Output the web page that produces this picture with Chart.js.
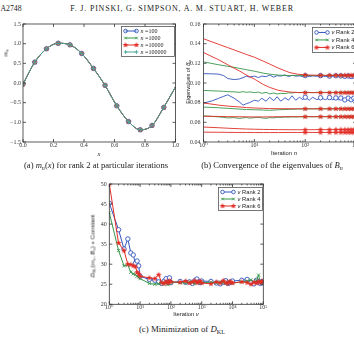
<!DOCTYPE html>
<html>
<head>
<meta charset="utf-8">
<script src="https://cdn.jsdelivr.net/npm/chart.js@4.4.1/dist/chart.umd.min.js"></script>
<style>
  html, body { margin: 0; padding: 0; background: #fff; }
  #page { position: relative; width: 354px; height: 338px; overflow: hidden; font-family: "Liberation Serif", "DejaVu Serif", serif; color: #222; }
  canvas { position: absolute; }
  .txt { position: absolute; white-space: nowrap; transform: translate(-50%, -50%); }
  .rot { transform: translate(-50%, -50%) rotate(-90deg); }
  .sans { font-family: "Liberation Sans", "DejaVu Sans", sans-serif; }
  sub { font-size: 70%; vertical-align: -0.3em; line-height: 0; }
</style>
</head>
<body>
<div id="page">
  <div class="txt" style="left:11px;top:8px;font-size:7.8px">A2748</div>
  <div class="txt" style="left:182px;top:8px;font-size:8px;letter-spacing:0.8px">F. J. PINSKI, G. SIMPSON, A. M. STUART, H. WEBER</div>

  <canvas id="chartA" width="180" height="138" style="left:0;top:14px"></canvas>
  <canvas id="chartB" width="180" height="138" style="left:180px;top:14px"></canvas>
  <canvas id="chartC" width="190" height="140" style="left:80px;top:174px"></canvas>

  <div class="txt rot" style="left:5px;top:53px;font-size:6.5px"><i>m</i><sub><i>n</i></sub></div>
  <div class="txt" style="left:99px;top:153px;font-size:6.5px"><i>x</i></div>
  <div class="txt" style="left:96px;top:165px;font-size:8.6px">(a) <i>m</i><sub><i>n</i></sub>(<i>x</i>) for rank 2 at particular iterations</div>

  <div class="txt rot sans" style="left:188px;top:82px;font-size:5.5px">Eigenvalues of <i>B</i><sub><i>n</i></sub></div>
  <div class="txt sans" style="left:284px;top:153px;font-size:5.8px">Iteration <i>n</i></div>
  <div class="txt" style="left:272px;top:165px;font-size:8.6px">(b) Convergence of the eigenvalues of <i>B</i><sub><i>n</i></sub></div>

  <div class="txt rot sans" style="left:92px;top:246px;font-size:6.2px"><i>D</i><sub>KL</sub>(<i>m</i><sub><i>ν</i></sub>, <i>B</i><sub><i>ν</i></sub>) + Constant</div>
  <div class="txt sans" style="left:186px;top:314px;font-size:5.8px">Iteration <i>ν</i></div>
  <div class="txt" style="left:182px;top:329px;font-size:8.8px">(c) Minimization of <i>D</i><sub>KL</sub></div>
</div>

<script>
// ---- (a) m_n(x) for rank 2 ----
const xA = [0, 0.077, 0.154, 0.231, 0.308, 0.385, 0.462, 0.538, 0.615, 0.692, 0.769, 0.846, 0.923, 1.0];
const mA = [-0.03, 0.53, 0.87, 1.01, 0.97, 0.75, 0.37, -0.06, -0.58, -0.98, -1.19, -1.08, -0.62, -0.10];
const itersA = ['100', '1000', '10000', '100000'];

// ---- (b) eigenvalues of B_n ----
const iterB = [1, 2, 3, 5, 7, 10, 15, 20, 30, 50, 70, 100, 200, 300, 400, 500, 600, 700, 800, 900, 1000];
const iterBFine = [1, 1.5, 2, 2.5, 3, 4, 5, 6, 7, 8, 10, 12, 14, 17, 20, 24, 28, 33, 40, 47,
  55, 65, 77, 90, 100, 120, 140, 170, 200, 250, 300, 350, 400, 450, 500, 600, 700, 800, 900, 1000];

const rank6Eig1 = [0.145, 0.1393, 0.136, 0.1318, 0.129, 0.1262, 0.1222, 0.1193, 0.115, 0.1105, 0.109, 0.1082, 0.1078, 0.1078, 0.1078, 0.1078, 0.1078, 0.1078, 0.1078, 0.1078, 0.1078];
const rank6Eig2 = [0.131, 0.1235, 0.1185, 0.1125, 0.108, 0.104, 0.0985, 0.0955, 0.0925, 0.0908, 0.0903, 0.0902, 0.0902, 0.0902, 0.0902, 0.0902, 0.0902, 0.0902, 0.0902, 0.0902, 0.0902];
const rank6Eig3 = [0.0797, 0.0775, 0.0765, 0.0757, 0.075, 0.0746, 0.0742, 0.074, 0.0739, 0.0738, 0.0738, 0.0738, 0.0738, 0.0738, 0.0738, 0.0738, 0.0738, 0.0738, 0.0738, 0.0738, 0.0738];
const rank6Eig4 = [0.0662, 0.066, 0.0658, 0.0657, 0.0656, 0.0655, 0.0655, 0.0656, 0.0657, 0.0658, 0.0658, 0.0658, 0.0658, 0.0658, 0.0658, 0.0658, 0.0658, 0.0658, 0.0658, 0.0658, 0.0658];
const rank6Eig5 = [0.0552, 0.0545, 0.054, 0.0535, 0.0532, 0.053, 0.0528, 0.0527, 0.0526, 0.0525, 0.0525, 0.0525, 0.0526, 0.0526, 0.0526, 0.0526, 0.0526, 0.0526, 0.0526, 0.0526, 0.0526];
const rank6Eig6 = [0.05, 0.0499, 0.0498, 0.0497, 0.0497, 0.0496, 0.0496, 0.0496, 0.0496, 0.0497, 0.0497, 0.0497, 0.0497, 0.0497, 0.0497, 0.0497, 0.0497, 0.0497, 0.0497, 0.0497, 0.0497];

const rank4Eig1 = [0.1215, 0.1185, 0.117, 0.115, 0.1135, 0.112, 0.110, 0.109, 0.108, 0.1075, 0.1078, 0.1076, 0.1077, 0.1076, 0.1077, 0.1076, 0.1077, 0.1076, 0.1077, 0.1076, 0.1077];
const rank4Eig2 = [0.0925, 0.092, 0.0918, 0.0915, 0.0912, 0.091, 0.0905, 0.0912, 0.0905, 0.091,
  0.0902, 0.0908, 0.0895, 0.0905, 0.089, 0.0898, 0.0888, 0.0895, 0.0892, 0.090,
  0.0898, 0.0905, 0.0902, 0.0905, 0.0903, 0.0905, 0.0902, 0.0905, 0.0903, 0.0905,
  0.0902, 0.0904, 0.0903, 0.0905, 0.0902, 0.0904, 0.0903, 0.0904, 0.0902, 0.0903];
const rank4Eig3 = [0.0755, 0.0748, 0.0742, 0.0735, 0.073, 0.0728, 0.0725, 0.0722, 0.0728, 0.0732, 0.0735, 0.0736, 0.0737, 0.0737, 0.0737, 0.0737, 0.0737, 0.0737, 0.0737, 0.0737, 0.0737];
const rank4Eig4 = [0.0665, 0.066, 0.0655, 0.065, 0.0645, 0.0648, 0.064, 0.0645, 0.065, 0.0642,
  0.0648, 0.0652, 0.0645, 0.064, 0.0648, 0.0645, 0.0652, 0.065, 0.0655, 0.0652,
  0.0656, 0.0654, 0.0656, 0.0655, 0.0656, 0.0657, 0.0656, 0.0657, 0.0656, 0.0657,
  0.0656, 0.0657, 0.0656, 0.0657, 0.0656, 0.0657, 0.0656, 0.0657, 0.0656, 0.0657];

const rank2Eig1 = [0.1095, 0.1093, 0.109, 0.1075, 0.1045, 0.1035, 0.104, 0.1055, 0.107, 0.106,
  0.107, 0.1055, 0.107, 0.1065, 0.108, 0.106, 0.1075, 0.107, 0.1082, 0.1065,
  0.1078, 0.107, 0.1072, 0.1065, 0.1075, 0.1065, 0.1072, 0.1068, 0.1075, 0.1065,
  0.107, 0.1068, 0.1074, 0.1066, 0.1072, 0.1068, 0.1072, 0.1066, 0.107, 0.1068];
const rank2Eig2 = [0.0795, 0.082, 0.0845, 0.0865, 0.088, 0.0845, 0.081, 0.0775, 0.079, 0.080,
  0.0825, 0.0815, 0.0845, 0.0815, 0.0855, 0.082, 0.086, 0.0815, 0.085, 0.0825,
  0.087, 0.0825, 0.0855, 0.083, 0.0855, 0.0825, 0.0855, 0.083, 0.085, 0.083,
  0.0852, 0.0828, 0.0848, 0.083, 0.0847, 0.0828, 0.0846, 0.083, 0.0845, 0.0835];

// ---- (c) D_KL ----
const iterC = [1, 2, 3, 4, 5, 6, 7, 8, 9, 10,
  20, 30, 40, 50, 60, 70, 80, 90, 100,
  200, 300, 400, 500, 600, 700, 800, 900, 1000,
  2000, 3000, 4000, 5000, 6000, 7000, 8000, 9000, 10000,
  20000, 30000, 40000, 50000, 60000, 70000, 80000, 90000, 100000];
const dklRank2 = [45.2, 38.6, 33.8, 36.3, 32.8, 32.3, 30.2, 30.8, 29.6, 27.0,
  26.2, 26.0, 25.6, 25.2, 25.8, 26.4, 25.5, 26.6, 25.4,
  25.7, 25.5, 25.6, 25.2, 25.9, 26.3, 25.6, 25.4, 25.8,
  25.7, 25.3, 25.1, 25.5, 25.9, 25.2, 25.4, 25.6, 25.8,
  26.0, 26.2, 25.4, 25.1, 26.0, 25.5, 25.2, 25.7, 25.3];
const dklRank4 = [42.8, 33.4, 29.6, 29.8, 28.0, 27.6, 27.4, 27.0, 26.8, 26.4,
  25.2, 25.0, 25.1, 25.3, 25.0, 25.4, 24.9, 25.2, 25.5,
  25.4, 25.3, 25.6, 25.4, 25.2, 25.5, 25.6, 25.3, 25.4,
  25.5, 25.3, 25.6, 25.4, 25.2, 25.5, 25.7, 25.4, 25.3,
  25.6, 25.8, 26.1, 25.5, 25.9, 27.3, 25.6, 25.4, 25.6];
const dklRank6 = [50.0, 35.3, 33.4, 30.0, 29.9, 29.6, 29.4, 28.0, 27.6, 27.0,
  26.6, 26.4, 27.4, 25.4, 25.2, 25.7, 25.3, 25.9, 25.6,
  25.5, 25.8, 25.3, 25.6, 25.9, 25.4, 25.6, 25.8, 25.3,
  25.1, 25.6, 25.3, 25.9, 25.4, 25.2, 25.7, 25.5, 25.3,
  25.6, 25.4, 25.0, 25.5, 25.3, 25.7, 25.4, 25.8, 25.5];

const rankLabels = ['Rank 2', 'Rank 4', 'Rank 6'];
const decadesB = [1, 10, 100, 1000];
const decadesC = [1, 10, 100, 1000, 10000, 100000];

const BLUE = 'rgb(50,85,190)';
const GREEN = 'rgb(55,150,75)';
const RED = 'rgb(226,45,38)';
const TEAL = 'rgb(72,165,150)';
const SERIF = "'Liberation Serif', 'DejaVu Serif', serif";
const SANS = "'Liberation Sans', 'DejaVu Sans', sans-serif";

const pts = (xs, ys) => xs.map((x, i) => ({ x, y: ys[i] }));
const sup = { '0': '⁰', '1': '¹', '2': '²', '3': '³', '4': '⁴', '5': '⁵' };
const powLabel = v => '10' + String(Math.round(Math.log10(v))).split('').map(c => sup[c]).join('');

function starMarker(color, r) {
  const c = document.createElement('canvas');
  const s = Math.ceil(r * 2 + 2);
  c.width = s; c.height = s;
  const g = c.getContext('2d');
  g.fillStyle = color;
  g.beginPath();
  for (let i = 0; i < 10; i++) {
    const rad = i % 2 ? r * 0.45 : r;
    const ang = -Math.PI / 2 + i * Math.PI / 5;
    g.lineTo(s / 2 + rad * Math.cos(ang), s / 2 + rad * Math.sin(ang));
  }
  g.closePath();
  g.fill();
  return c;
}

// log axis ticks: decades are major, 2..9 are minor
function logTicks(decades) {
  const out = [];
  decades.forEach((d, i) => {
    out.push({ value: d });
    if (i < decades.length - 1) for (let k = 2; k <= 9; k++) out.push({ value: d * k, minor: true });
  });
  return out;
}

// box with inward tick marks on all four sides
const framePlugin = {
  id: 'frame',
  afterDatasetsDraw(chart) {
    const { ctx, chartArea: a } = chart;
    const xs = chart.scales.x, ys = chart.scales.y;
    ctx.save();
    ctx.strokeStyle = '#333';
    ctx.lineWidth = 0.8;
    ctx.strokeRect(a.left, a.top, a.right - a.left, a.bottom - a.top);
    ctx.beginPath();
    xs.ticks.forEach(t => {
      const px = xs.getPixelForValue(t.value);
      const len = t.minor ? 1.5 : 3;
      ctx.moveTo(px, a.bottom); ctx.lineTo(px, a.bottom - len);
      ctx.moveTo(px, a.top); ctx.lineTo(px, a.top + len);
    });
    ys.ticks.forEach(t => {
      const py = ys.getPixelForValue(t.value);
      ctx.moveTo(a.left, py); ctx.lineTo(a.left + 3, py);
      ctx.moveTo(a.right, py); ctx.lineTo(a.right - 3, py);
    });
    ctx.stroke();
    ctx.restore();
  }
};

// matplotlib style legend: line with a marker at each end
const legendPlugin = {
  id: 'miniLegend',
  afterDraw(chart, args, o) {
    if (!o || !o.entries) return;
    const { ctx, chartArea } = chart;
    const h = o.rowH * o.entries.length + o.padY * 2;
    const x0 = Math.round(chartArea.right - o.insetR - o.width) + 0.5;
    const y0 = Math.round(chartArea.top + o.insetT) + 0.5;
    ctx.save();
    ctx.fillStyle = '#fff';
    ctx.fillRect(x0, y0, o.width, h);
    ctx.strokeStyle = '#555';
    ctx.lineWidth = 0.8;
    ctx.strokeRect(x0, y0, o.width, h);
    o.entries.forEach((e, i) => {
      const ds = chart.data.datasets[e.dataset];
      const cy = y0 + o.padY + o.rowH * (i + 0.5);
      const lx0 = x0 + 4, lx1 = lx0 + o.lineLen;
      ctx.strokeStyle = ds.borderColor;
      ctx.lineWidth = 1;
      ctx.beginPath(); ctx.moveTo(lx0, cy); ctx.lineTo(lx1, cy); ctx.stroke();
      [lx0, lx1].forEach(px => {
        ctx.fillStyle = ds.pointBackgroundColor;
        ctx.strokeStyle = ds.pointBorderColor;
        ctx.lineWidth = 0.9;
        Chart.helpers.drawPoint(ctx, { pointStyle: ds.pointStyle, radius: o.markR, borderWidth: 0.9, rotation: 0 }, px, cy);
      });
      let tx = lx1 + 4;
      ctx.fillStyle = '#222';
      ctx.textBaseline = 'middle';
      e.parts.forEach(p => {
        ctx.font = (p.italic ? 'italic ' : '') + o.fontSize + 'px ' + o.family;
        ctx.fillText(p.t, tx, cy);
        tx += ctx.measureText(p.t).width;
      });
    });
    ctx.restore();
  }
};

Chart.register(framePlugin, legendPlugin);

const tickFont = { family: SERIF, size: 6 };
const baseOptions = (padding) => ({
  responsive: false,
  animation: false,
  devicePixelRatio: 1,
  events: [],
  layout: { padding, autoPadding: false }
});

// ---------- chart (a) ----------
const styleA = [
  { color: BLUE, pointStyle: 'circle', bg: 'rgba(255,255,255,0)' },
  { color: GREEN, pointStyle: 'crossRot', bg: GREEN },
  { color: RED, pointStyle: starMarker(RED, 3), bg: RED },
  { color: TEAL, pointStyle: 'cross', bg: TEAL }
];
new Chart(document.getElementById('chartA'), {
  type: 'line',
  data: {
    datasets: itersA.map((it, i) => ({
      label: 'n =' + it,
      data: pts(xA, mA),
      borderColor: styleA[i].color,
      borderWidth: 1,
      pointStyle: styleA[i].pointStyle,
      pointBackgroundColor: styleA[i].bg,
      pointBorderColor: styleA[i].color,
      pointBorderWidth: 0.9,
      pointRadius: c => (c.dataIndex < xA.length - 1 ? 2.2 : 0),
      cubicInterpolationMode: 'monotone',
      order: itersA.length - 1 - i
    }))
  },
  options: {
    ...baseOptions({ left: 0, top: 10, right: 4.5, bottom: 0 }),
    scales: {
      x: {
        type: 'linear', min: 0, max: 1,
        ticks: { stepSize: 0.2, font: tickFont, color: '#333', padding: 0, maxRotation: 0, callback: v => v.toFixed(1) },
        grid: { display: false, drawTicks: false }, border: { display: false },
        afterFit: s => { s.height = 10; }
      },
      y: {
        min: -1.5, max: 1.5,
        ticks: { stepSize: 0.5, font: tickFont, color: '#333', padding: 2, callback: v => v.toFixed(1).replace('-', '−') },
        grid: { display: false, drawTicks: false }, border: { display: false },
        afterFit: s => { s.width = 23; }
      }
    },
    plugins: {
      legend: { display: false }, tooltip: { enabled: false },
      miniLegend: {
        insetR: 1.5, insetT: 2, width: 53, rowH: 7, padY: 1, lineLen: 11, markR: 1.8,
        fontSize: 6, family: SERIF,
        entries: itersA.map((it, i) => ({ dataset: i, parts: [{ t: 'n', italic: true }, { t: ' =' + it }] }))
      }
    }
  }
});

// ---------- chart (b) ----------
const markEvery100 = r => c => (c.raw && c.raw.x >= 100 && c.raw.x % 100 === 0 ? r : 0);
const redStar = starMarker(RED, 3);
function eigSet(xs, ys, rank) {
  const st = rank === 2 ? { color: BLUE, ps: 'circle', bg: '#fff', order: 2 }
    : rank === 4 ? { color: GREEN, ps: 'crossRot', bg: GREEN, order: 1 }
    : { color: RED, ps: redStar, bg: RED, order: 0 };
  return {
    data: pts(xs, ys),
    borderColor: st.color, borderWidth: 0.9,
    pointStyle: st.ps, pointBackgroundColor: st.bg, pointBorderColor: st.color, pointBorderWidth: 0.9,
    pointRadius: markEvery100(2.2), tension: 0, order: st.order
  };
}
new Chart(document.getElementById('chartB'), {
  type: 'line',
  data: {
    datasets: [
      eigSet(iterBFine, rank2Eig1, 2),
      eigSet(iterB, rank4Eig1, 4),
      eigSet(iterB, rank6Eig1, 6),
      eigSet(iterBFine, rank2Eig2, 2),
      eigSet(iterBFine, rank4Eig2, 4),
      eigSet(iterB, rank4Eig3, 4),
      eigSet(iterBFine, rank4Eig4, 4),
      eigSet(iterB, rank6Eig2, 6),
      eigSet(iterB, rank6Eig3, 6),
      eigSet(iterB, rank6Eig4, 6),
      eigSet(iterB, rank6Eig5, 6),
      eigSet(iterB, rank6Eig6, 6)
    ]
  },
  options: {
    ...baseOptions({ left: 0, top: 10, right: 3.5, bottom: 0 }),
    scales: {
      x: {
        type: 'logarithmic', min: 1, max: 1000,
        afterBuildTicks: s => { s.ticks = logTicks(decadesB); },
        ticks: { font: tickFont, color: '#333', padding: 0, maxRotation: 0, autoSkip: false,
          callback: (v, i, t) => (t[i] && t[i].minor ? '' : powLabel(v)) },
        grid: { display: false, drawTicks: false }, border: { display: false },
        afterFit: s => { s.height = 10; }
      },
      y: {
        min: 0.04, max: 0.16,
        ticks: { stepSize: 0.02, font: tickFont, color: '#333', padding: 3, callback: v => v.toFixed(2) },
        grid: { display: false, drawTicks: false }, border: { display: false },
        afterFit: s => { s.width = 23.5; }
      }
    },
    plugins: {
      legend: { display: false }, tooltip: { enabled: false },
      miniLegend: {
        insetR: 2.5, insetT: 3, width: 42, rowH: 7.5, padY: 1.2, lineLen: 11, markR: 1.8,
        fontSize: 5.8, family: SANS,
        entries: rankLabels.map((l, i) => ({ dataset: i, parts: [{ t: 'ν', italic: true }, { t: ' ' + l }] }))
      }
    }
  }
});

// ---------- chart (c) ----------
const redStarC = starMarker(RED, 3);
const dklSets = [
  { ys: dklRank2, color: BLUE, ps: 'circle', bg: '#fff', order: 2 },
  { ys: dklRank4, color: GREEN, ps: 'crossRot', bg: GREEN, order: 1 },
  { ys: dklRank6, color: RED, ps: redStarC, bg: RED, order: 0 }
];
new Chart(document.getElementById('chartC'), {
  type: 'line',
  data: {
    datasets: dklSets.map(s => ({
      data: pts(iterC, s.ys),
      borderColor: s.color, borderWidth: 1,
      pointStyle: s.ps, pointBackgroundColor: s.bg, pointBorderColor: s.color, pointBorderWidth: 0.9,
      pointRadius: 2.2, tension: 0, order: s.order
    }))
  },
  options: {
    ...baseOptions({ left: 0, top: 10, right: 6.7, bottom: 0 }),
    scales: {
      x: {
        type: 'logarithmic', min: 1, max: 100000,
        afterBuildTicks: s => { s.ticks = logTicks(decadesC); },
        ticks: { font: tickFont, color: '#333', padding: 0, maxRotation: 0, autoSkip: false,
          callback: (v, i, t) => (t[i] && t[i].minor ? '' : powLabel(v)) },
        grid: { display: false, drawTicks: false }, border: { display: false },
        afterFit: s => { s.height = 9.7; }
      },
      y: {
        min: 20, max: 50,
        ticks: { stepSize: 5, font: tickFont, color: '#333', padding: 2.5 },
        grid: { display: false, drawTicks: false }, border: { display: false },
        afterFit: s => { s.width = 29.3; }
      }
    },
    plugins: {
      legend: { display: false }, tooltip: { enabled: false },
      miniLegend: {
        insetR: 1, insetT: 2.7, width: 44, rowH: 7, padY: 1, lineLen: 11, markR: 1.8,
        fontSize: 5.8, family: SANS,
        entries: rankLabels.map((l, i) => ({ dataset: i, parts: [{ t: 'ν', italic: true }, { t: ' ' + l }] }))
      }
    }
  }
});
</script>
</body>
</html>
